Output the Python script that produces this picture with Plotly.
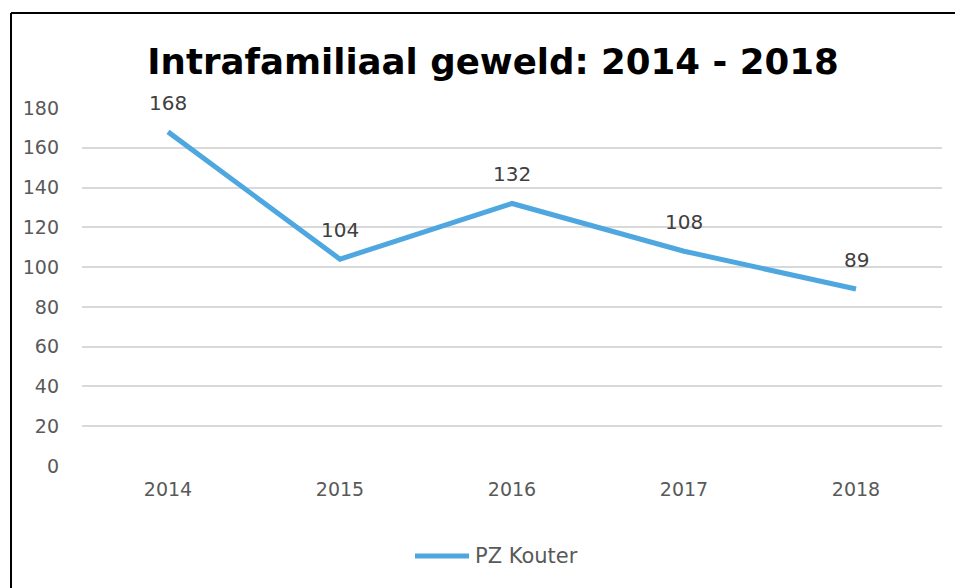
import plotly.graph_objects as go

years = ["2014", "2015", "2016", "2017", "2018"]
values = [168, 104, 132, 108, 89]
series_name = "PZ Kouter"
title_text = "Intrafamiliaal geweld: 2014 - 2018"
y_ticks = [0, 20, 40, 60, 80, 100, 120, 140, 160, 180]

OX, OY = 8, 8  # page body margin offset
W, H = 963 - OX, 588 - OY
L, T = 82 - OX, 108 - OY
pw, ph = 860, 358
R = W - L - pw
B = H - T - ph
plot_bottom = T + ph
line_color = "#4FA7E0"


def px_x(sx):
    return (sx - OX - L) / pw


def px_y(sy):
    return (plot_bottom - (sy - OY)) / ph


fig = go.Figure()
fig.add_trace(go.Scatter(
    x=years, y=values, mode="lines", name=series_name, showlegend=False,
    line=dict(color=line_color, width=5),
))

for i, yv in enumerate(values):
    fig.add_annotation(x=i, y=yv, xref="x", yref="y", text=str(yv), showarrow=False,
                       yshift=29, font=dict(family="DejaVu Sans", size=20, color="#404040"))

# outer frame: only top and left edges are visible in the picture
fig.add_shape(type="line", xref="paper", yref="paper",
              x0=px_x(11), x1=px_x(963), y0=px_y(13), y1=px_y(13),
              line=dict(color="black", width=2))
fig.add_shape(type="line", xref="paper", yref="paper",
              x0=px_x(11), x1=px_x(11), y0=px_y(13), y1=px_y(600),
              line=dict(color="black", width=2))

# legend (drawn manually to match the long legend line)
fig.add_shape(type="line", xref="paper", yref="paper",
              x0=px_x(415), x1=px_x(469), y0=px_y(556), y1=px_y(556),
              line=dict(color=line_color, width=5))
fig.add_annotation(xref="paper", yref="paper", x=px_x(473), y=px_y(556),
                   xanchor="left", yanchor="middle", text=series_name, showarrow=False,
                   font=dict(family="DejaVu Sans", size=21, color="#595959"))

fig.update_layout(
    width=W, height=H,
    margin=dict(l=L, r=R, t=T, b=B),
    paper_bgcolor="white", plot_bgcolor="white",
    title=dict(text="<b>" + title_text + "</b>", x=(493 - OX) / W, xanchor="center",
               y=1 - (62 - OY) / H, yanchor="middle",
               font=dict(family="DejaVu Sans", size=35.6, color="black")),
    xaxis=dict(type="category", range=[-0.5, 4.5], showgrid=False, showline=False,
               zeroline=False, ticks="", ticklabelstandoff=10,
               tickfont=dict(family="DejaVu Sans", size=19, color="#595959")),
    yaxis=dict(range=[0, 180], tickvals=y_ticks, showgrid=True, gridcolor="#D9D9D9",
               gridwidth=1.5, zeroline=False, showline=False, ticks="",
               ticklabelstandoff=22,
               tickfont=dict(family="DejaVu Sans", size=19, color="#595959")),
    showlegend=False,
)

fig.write_html("out.html")
